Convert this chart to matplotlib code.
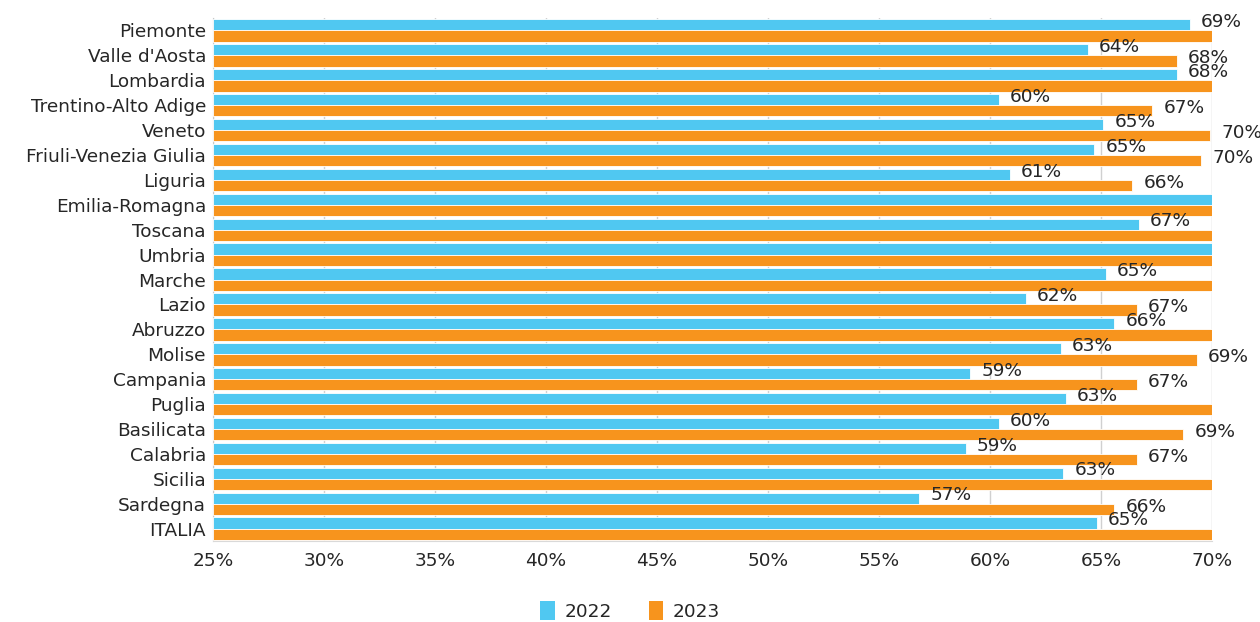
import numpy as np
import matplotlib
matplotlib.use('Agg')
import matplotlib.pyplot as plt
from matplotlib.patches import Patch

regioni = ['Piemonte', "Valle d'Aosta", 'Lombardia', 'Trentino-Alto Adige', 'Veneto',
           'Friuli-Venezia Giulia', 'Liguria', 'Emilia-Romagna', 'Toscana', 'Umbria',
           'Marche', 'Lazio', 'Abruzzo', 'Molise', 'Campania', 'Puglia', 'Basilicata',
           'Calabria', 'Sicilia', 'Sardegna', 'ITALIA']

# valori in %, quelli oltre il 70% sono tagliati dall'asse (stimati)
v2022 = [69.0, 64.4, 68.4, 60.4, 65.1, 64.7, 60.9, 72.0, 66.7, 71.5,
         65.2, 61.6, 65.6, 63.2, 59.1, 63.4, 60.4, 58.9, 63.3, 56.8, 64.8]
v2023 = [71.0, 68.4, 71.5, 67.3, 69.9, 69.5, 66.4, 73.0, 71.0, 72.5,
         71.0, 66.6, 71.0, 69.3, 66.6, 71.0, 68.7, 66.6, 71.0, 65.6, 71.0]

anni = ['2022', '2023']
colori = ['#50C8F1', '#F7941D']
testo = '#262626'
fs = 13.3

plt.rcParams['font.family'] = ['DejaVu Sans']

fig = plt.figure(figsize=(12.6, 6.22), dpi=100)
ax = fig.add_axes([0.169, 0.130, 0.793, 0.841])

n = len(regioni)
y = np.arange(n)
h = 0.45

for i, (vals, col) in enumerate(zip([v2022, v2023], colori)):
    pos = y - h / 2 + i * h
    ax.barh(pos, np.array(vals) - 25, left=25, height=h, color=col,
            edgecolor='white', linewidth=0.6, zorder=3)
    for p, v in zip(pos, vals):
        if v <= 70:
            ax.annotate(f'{v:.0f}%', (v, p), xytext=(8, 2), textcoords='offset points',
                        va='center', ha='left', fontsize=fs, color=testo,
                        annotation_clip=False, zorder=6)

ax.set_xlim(25, 70)
ax.set_ylim(n - 0.5, -0.5)
ax.set_xticks(np.arange(25, 71, 5))
ax.set_xticklabels([f'{t}%' for t in range(25, 71, 5)])
ax.set_yticks(y)
ax.set_yticklabels(regioni)
ax.tick_params(axis='both', length=0, labelsize=fs, colors=testo)
ax.tick_params(axis='x', pad=8)
ax.tick_params(axis='y', pad=5)

ax.grid(axis='x', color='#D0D0D0', linewidth=1, zorder=0)
for s in ['top', 'right']:
    ax.spines[s].set_visible(False)
ax.spines['left'].set_color('#C8C8C8')
ax.spines['bottom'].set_color('#D9D9D9')

handles = [Patch(facecolor=c, label=a) for a, c in zip(anni, colori)]
fig.legend(handles=handles, loc='lower center', ncol=2, frameon=False,
           bbox_to_anchor=(0.5, -0.025), fontsize=fs, handlelength=0.8,
           handleheight=1.2, columnspacing=2.0, handletextpad=0.5, labelcolor=testo)

fig.savefig('out.png', dpi=100)
